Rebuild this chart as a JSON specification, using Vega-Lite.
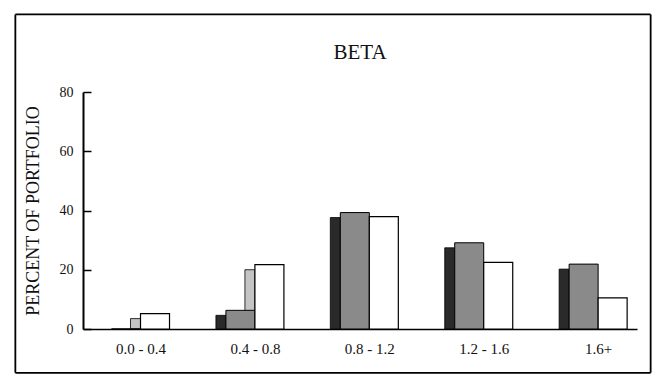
{
  "$schema": "https://vega.github.io/schema/vega-lite/v6.json",
  "width": 554,
  "height": 237,
  "autosize": {"type": "none"},
  "padding": {"left": 83, "top": 92, "right": 26, "bottom": 48},
  "background": "white",
  "config": {"view": {"stroke": null}},
  "title": {"text": "BETA", "font": "Liberation Serif", "fontSize": 21, "fontWeight": "normal", "color": "#111111", "frame": "group", "anchor": "middle", "baseline": "alphabetic", "offset": -67},
  "data": {"values": [
    {"range": "0.0 - 0.4", "pos": 1, "series": "Portfolio", "value": 0},
    {"range": "0.0 - 0.4", "pos": 1, "series": "Index", "value": 5.2},
    {"range": "0.4 - 0.8", "pos": 2, "series": "Portfolio", "value": 6.3},
    {"range": "0.4 - 0.8", "pos": 2, "series": "Index", "value": 21.7},
    {"range": "0.8 - 1.2", "pos": 3, "series": "Portfolio", "value": 39.3},
    {"range": "0.8 - 1.2", "pos": 3, "series": "Index", "value": 37.9},
    {"range": "1.2 - 1.6", "pos": 4, "series": "Portfolio", "value": 29.1},
    {"range": "1.2 - 1.6", "pos": 4, "series": "Index", "value": 22.5},
    {"range": "1.6+", "pos": 5, "series": "Portfolio", "value": 21.9},
    {"range": "1.6+", "pos": 5, "series": "Index", "value": 10.5}
  ]},
  "layer": [
    {
      "transform": [{"filter": "datum.series === 'Index'"}],
      "mark": {"type": "bar", "width": 10, "xOffset": -5, "yOffset": 5, "fill": "#c4c4c4", "stroke": "#000000", "strokeWidth": 0.8},
      "encoding": {
        "x": {"field": "pos", "type": "quantitative",
          "scale": {"domain": [0.541, 5.296], "nice": false, "zero": false},
          "axis": {"values": [1, 2, 3, 4, 5], "labelExpr": "['0.0 - 0.4','0.4 - 0.8','0.8 - 1.2','1.2 - 1.6','1.6+'][datum.value - 1]",
            "title": null, "grid": false, "ticks": false, "domainColor": "#000000", "domainWidth": 1.5,
            "labelFont": "Liberation Serif", "labelFontSize": 15, "labelColor": "#111111", "labelPadding": 12}},
        "y": {"field": "value", "type": "quantitative",
          "scale": {"domain": [0, 80], "nice": false},
          "axis": {"values": [0, 20, 40, 60, 80], "title": "PERCENT OF PORTFOLIO", "grid": false,
            "domainColor": "#000000", "domainWidth": 2, "tickColor": "#000000", "tickWidth": 1.5, "tickSize": -8,
            "labelFont": "Liberation Serif", "labelFontSize": 14, "labelColor": "#111111", "labelPadding": 18,
            "titleFont": "Liberation Serif", "titleFontSize": 18, "titleFontWeight": "normal", "titleColor": "#111111", "titlePadding": 17}},
        "y2": {"datum": 0}
      }
    },
    {
      "transform": [{"filter": "datum.series === 'Portfolio' && datum.value > 0"}],
      "mark": {"type": "bar", "width": 10, "xOffset": -34, "yOffset": 5, "fill": "#2a2a2a", "stroke": "#000000", "strokeWidth": 0.8},
      "encoding": {
        "x": {"field": "pos", "type": "quantitative"},
        "y": {"field": "value", "type": "quantitative"},
        "y2": {"datum": 0}
      }
    },
    {
      "transform": [{"filter": "datum.series === 'Portfolio'"}],
      "mark": {"type": "bar", "width": 29, "xOffset": -14.5, "fill": "#8a8a8a", "stroke": "#000000", "strokeWidth": 1},
      "encoding": {
        "x": {"field": "pos", "type": "quantitative"},
        "y": {"field": "value", "type": "quantitative"}
      }
    },
    {
      "transform": [{"filter": "datum.series === 'Index'"}],
      "mark": {"type": "bar", "width": 29, "xOffset": 14.5, "fill": "#ffffff", "stroke": "#000000", "strokeWidth": 1.2},
      "encoding": {
        "x": {"field": "pos", "type": "quantitative"},
        "y": {"field": "value", "type": "quantitative"}
      }
    },
    {
      "data": {"values": [{"side": "left"}]},
      "mark": {"type": "rule", "stroke": "#000000", "strokeWidth": 1.8, "clip": false},
      "encoding": {
        "x": {"datum": -0.094, "type": "quantitative"},
        "y": {"datum": 106.2, "type": "quantitative"},
        "y2": {"datum": -14.8}
      }
    },
    {
      "data": {"values": [{"side": "right"}]},
      "mark": {"type": "rule", "stroke": "#000000", "strokeWidth": 1.8, "clip": false},
      "encoding": {
        "x": {"datum": 5.459, "type": "quantitative"},
        "y": {"datum": 106.2, "type": "quantitative"},
        "y2": {"datum": -14.8}
      }
    },
    {
      "data": {"values": [{"side": "top"}]},
      "mark": {"type": "rule", "stroke": "#000000", "strokeWidth": 1.8, "clip": false},
      "encoding": {
        "y": {"datum": 106.2, "type": "quantitative"},
        "x": {"datum": -0.094, "type": "quantitative"},
        "x2": {"datum": 5.459}
      }
    },
    {
      "data": {"values": [{"side": "bottom"}]},
      "mark": {"type": "rule", "stroke": "#000000", "strokeWidth": 1.8, "clip": false},
      "encoding": {
        "y": {"datum": -14.8, "type": "quantitative"},
        "x": {"datum": -0.094, "type": "quantitative"},
        "x2": {"datum": 5.459}
      }
    }
  ]
}
